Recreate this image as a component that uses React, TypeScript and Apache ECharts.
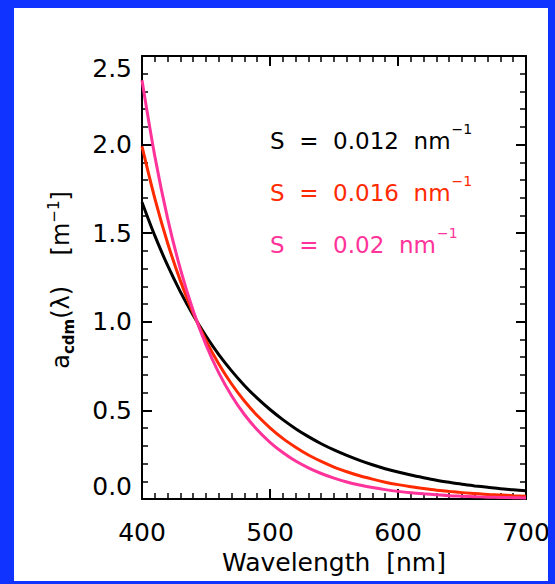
import React, { useEffect, useRef } from "react";
import * as echarts from "echarts";

const wavelengths = [400, 410, 420, 430, 440, 450, 460, 470, 480, 490, 500, 510, 520, 530, 540, 550, 560, 570, 580, 590, 600, 610, 620, 630, 640, 650, 660, 670, 680, 690, 700];
const s012 = [1.675, 1.486, 1.318, 1.169, 1.037, 0.920, 0.815, 0.723, 0.641, 0.569, 0.505, 0.448, 0.397, 0.352, 0.312, 0.277, 0.246, 0.218, 0.193, 0.171, 0.152, 0.135, 0.120, 0.106, 0.094, 0.083, 0.074, 0.066, 0.058, 0.052, 0.046];
const s016 = [1.990, 1.697, 1.445, 1.231, 1.049, 0.894, 0.762, 0.649, 0.553, 0.471, 0.402, 0.342, 0.292, 0.248, 0.212, 0.180, 0.154, 0.131, 0.112, 0.095, 0.081, 0.069, 0.059, 0.050, 0.043, 0.036, 0.031, 0.026, 0.023, 0.019, 0.016];
const s020 = [2.363, 1.935, 1.584, 1.297, 1.062, 0.869, 0.712, 0.583, 0.477, 0.391, 0.320, 0.262, 0.214, 0.176, 0.144, 0.118, 0.096, 0.079, 0.065, 0.053, 0.043, 0.035, 0.029, 0.024, 0.019, 0.016, 0.013, 0.010, 0.009, 0.007, 0.006];
const seriesNames = ["S = 0.012 nm", "S = 0.016 nm", "S = 0.02 nm"];
const seriesColors = ["#000000", "#ff2a00", "#ff3399"];
const xTitle = "Wavelength  [nm]";

const FONT = "DejaVu Sans";

const mkLine = () => ({ show: true, onZero: false, lineStyle: { color: "#000", width: 2 } });
const mkTick = () => ({ show: true, inside: true, length: 10, lineStyle: { color: "#000", width: 2 } });
const mkMinor = (n: number) => ({ show: true, splitNumber: n, length: 6, lineStyle: { color: "#000", width: 1.5 } });

export default function App() {
  const ref = useRef<HTMLDivElement>(null);
  useEffect(() => {
    if (!ref.current) return;
    const chart = echarts.init(ref.current, null, { renderer: "svg" });
    const allData = [s012, s016, s020];
    const blue = "#1133ff";
    chart.setOption({
      animation: false,
      backgroundColor: "#ffffff",
      grid: { left: 142, top: 56, right: 29, bottom: 85, containLabel: false },
      xAxis: [
        {
          type: "value", min: 400, max: 700, interval: 100, position: "bottom",
          axisLine: mkLine(), axisTick: mkTick(), minorTick: mkMinor(10), splitLine: { show: false },
          axisLabel: { fontSize: 25, color: "#000", margin: 21, fontFamily: FONT },
          name: xTitle, nameLocation: "middle", nameGap: 50,
          nameTextStyle: { fontSize: 25, color: "#000", fontFamily: FONT, verticalAlign: "top" },
        },
        {
          type: "value", min: 400, max: 700, interval: 100, position: "top",
          axisLine: mkLine(), axisTick: mkTick(), minorTick: mkMinor(10), splitLine: { show: false },
          axisLabel: { show: false },
        },
      ],
      yAxis: [
        {
          type: "value", min: 0, max: 2.5, interval: 0.5, position: "left",
          axisLine: mkLine(), axisTick: mkTick(), minorTick: mkMinor(5), splitLine: { show: false },
          axisLabel: {
            fontSize: 25, color: "#000", margin: 10, fontFamily: FONT,
            formatter: (v: number) => v.toFixed(1),
            verticalAlignMinLabel: "bottom", verticalAlignMaxLabel: "top",
          },
        },
        {
          type: "value", min: 0, max: 2.5, interval: 0.5, position: "right",
          axisLine: mkLine(), axisTick: mkTick(), minorTick: mkMinor(5), splitLine: { show: false },
          axisLabel: { show: false },
        },
      ],
      series: allData.map((d, i) => ({
        type: "line",
        name: seriesNames[i],
        xAxisIndex: 0,
        yAxisIndex: 0,
        data: wavelengths.map((w, j) => [w, d[j]]),
        showSymbol: false,
        symbol: "none",
        smooth: 0.3,
        lineStyle: { color: seriesColors[i], width: 3 },
        itemStyle: { color: seriesColors[i] },
        z: 3 + i,
      })),
      graphic: [
        ...seriesNames.map((n, i) => ({
          type: "text",
          left: 270,
          top: 122 + i * 52,
          z: 50,
          style: {
            text: `{m|${n.replace(/ /g, "  ")}}{s|−1}`,
            rich: {
              m: { fontSize: 23, fontFamily: FONT, fill: seriesColors[i], lineHeight: 30, verticalAlign: "bottom" },
              s: { fontSize: 14, fontFamily: FONT, fill: seriesColors[i], lineHeight: 15, verticalAlign: "top", padding: [0, 0, 0, 1] },
            },
          },
        })),
        {
          type: "text",
          x: 61,
          y: 280,
          rotation: Math.PI / 2,
          z: 50,
          style: {
            text: "{n|a}{b|cdm}{n|(λ)    [m}{p|−1}{n|]}",
            align: "center",
            verticalAlign: "middle",
            rich: {
              n: { fontSize: 24, fontFamily: FONT, fill: "#000", lineHeight: 30, verticalAlign: "middle" },
              b: { fontSize: 15, fontFamily: FONT, fill: "#000", fontWeight: "bold", lineHeight: 15, verticalAlign: "bottom" },
              p: { fontSize: 15, fontFamily: FONT, fill: "#000", lineHeight: 15, verticalAlign: "top" },
            },
          },
        },
        { type: "rect", z: 100, shape: { x: 0, y: 0, width: 555, height: 8 }, style: { fill: blue } },
        { type: "rect", z: 100, shape: { x: 0, y: 581, width: 555, height: 3 }, style: { fill: blue } },
        { type: "rect", z: 100, shape: { x: 0, y: 0, width: 14, height: 584 }, style: { fill: blue } },
        { type: "rect", z: 100, shape: { x: 548, y: 0, width: 7, height: 584 }, style: { fill: blue } },
      ],
    });
    return () => chart.dispose();
  }, []);
  return <div ref={ref} style={{ position: "fixed", left: 0, top: 0, width: 555, height: 584 }} />;
}
